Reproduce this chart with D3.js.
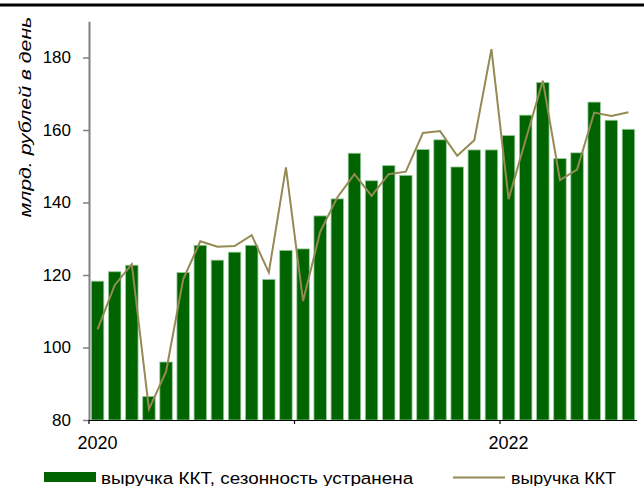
<!DOCTYPE html>
<html>
<head>
<meta charset="utf-8">
<script src="https://cdn.jsdelivr.net/npm/d3@7"></script>
<style>
  html, body { margin: 0; padding: 0; background: #fff; }
  svg { display: block; font-family: "Liberation Sans", Arial, sans-serif; }
</style>
</head>
<body>
<svg id="chart" width="644" height="486"></svg>
<script>
// ---- data ----
const months = [
  "2020-01","2020-02","2020-03","2020-04","2020-05","2020-06","2020-07","2020-08","2020-09","2020-10","2020-11","2020-12",
  "2021-01","2021-02","2021-03","2021-04","2021-05","2021-06","2021-07","2021-08","2021-09","2021-10","2021-11","2021-12",
  "2022-01","2022-02","2022-03","2022-04","2022-05","2022-06","2022-07","2022-08"
];
const seasAdj = [
  118.3, 120.9, 122.7, 86.5, 96.0, 120.7, 128.2, 124.1, 126.3, 128.2, 118.8, 126.8,
  127.2, 136.3, 141.0, 153.6, 146.0, 150.2, 147.5, 154.6, 157.3, 149.8, 154.5, 154.5,
  158.5, 164.1, 173.1, 152.1, 153.7, 167.7, 162.7, 160.2
];
const raw = [
  105.0, 117.2, 123.0, 83.0, 93.3, 118.8, 129.3, 127.8, 128.0, 131.0, 120.7, 149.7,
  112.8, 131.9, 141.4, 147.8, 141.8, 147.8, 148.5, 159.2, 159.7, 152.9, 157.2, 182.3,
  140.9, 157.3, 173.6, 146.2, 149.1, 164.8, 163.9, 164.9
];
const yTicks = [80, 100, 120, 140, 160, 180];
const yearTicks = ["2020-01", "2021-01", "2022-01"];
const yearLabels = [{ m: "2020-01", t: "2020" }, { m: "2022-01", t: "2022" }];
const seriesNames = ["выручка ККТ, сезонность устранена", "выручка ККТ"];
const yTitle = "млрд. рублей в день";

// ---- layout ----
const svg = d3.select("#chart");
const plotL = 89, plotR = 637, plotT = 21.25, plotB = 420;
const barColor = "#006400";
const lineColor = "#948a54";

const x = d3.scaleBand().domain(months).range([plotL, plotR])
  .paddingInner(0.27).paddingOuter(0.135);
const y = d3.scaleLinear().domain([80, 190]).range([plotB, plotT]);

// top border
svg.append("line").attr("x1", 0).attr("x2", 644).attr("y1", 5).attr("y2", 5)
  .attr("stroke", "#000").attr("stroke-width", 3);

// bars
svg.append("g").selectAll("rect").data(months).join("rect")
  .attr("x", d => x(d))
  .attr("width", x.bandwidth())
  .attr("y", (d, i) => y(seasAdj[i]))
  .attr("height", (d, i) => y(80) - y(seasAdj[i]))
  .attr("fill", barColor)
  .attr("stroke", "#9ccc9c")
  .attr("stroke-width", 0.8);

// line
const lineGen = d3.line()
  .x((d, i) => x(months[i]) + x.bandwidth() / 2)
  .y(d => y(d));
svg.append("path").datum(raw)
  .attr("d", lineGen)
  .attr("fill", "none")
  .attr("stroke", lineColor)
  .attr("stroke-width", 2)
  .attr("stroke-linejoin", "miter");

// y axis
const yAxis = svg.append("g").attr("transform", `translate(${plotL},0)`)
  .call(d3.axisLeft(y).tickValues(yTicks).tickSize(6).tickPadding(12).tickSizeOuter(0));
yAxis.select(".domain").attr("stroke", "#808080").attr("stroke-width", 2);
yAxis.selectAll(".tick line").attr("stroke", "#808080").attr("stroke-width", 1.5);
yAxis.selectAll(".tick text").attr("font-size", 17).attr("fill", "#000")
  .attr("font-family", "Liberation Sans, Arial, sans-serif");

// x axis
const step = x.step();
const off = (step - x.bandwidth()) / 2;
const xg = svg.append("g");
xg.append("line").attr("x1", plotL).attr("x2", plotR).attr("y1", plotB + 0.5).attr("y2", plotB + 0.5)
  .attr("stroke", "#000").attr("stroke-width", 1);
xg.selectAll("line.tk").data(yearTicks).join("line").attr("class", "tk")
  .attr("x1", d => x(d) - off).attr("x2", d => x(d) - off)
  .attr("y1", plotB).attr("y2", plotB + 4)
  .attr("stroke", "#000").attr("stroke-width", 1.2);
xg.selectAll("text").data(yearLabels).join("text")
  .attr("x", d => x(d.m) + x.bandwidth() / 2)
  .attr("y", 449)
  .attr("text-anchor", "middle")
  .attr("font-size", 18)
  .attr("fill", "#000")
  .text(d => d.t);

// y title
svg.append("text")
  .attr("transform", "translate(31,117) rotate(-90) scale(1.25,1)")
  .attr("text-anchor", "middle")
  .attr("font-size", 17)
  .attr("font-style", "italic")
  .attr("fill", "#000")
  .text(yTitle);

// legend
const lg = svg.append("g");
lg.append("rect").attr("x", 44).attr("y", 472).attr("width", 52).attr("height", 10).attr("fill", barColor);
lg.append("text").attr("transform", "translate(101,483.5) scale(1.11,1)")
  .attr("font-size", 17).attr("fill", "#000").text(seriesNames[0]);
lg.append("line").attr("x1", 453).attr("x2", 505).attr("y1", 477.5).attr("y2", 477.5)
  .attr("stroke", lineColor).attr("stroke-width", 2);
lg.append("text").attr("transform", "translate(511,483.5) scale(1.05,1)")
  .attr("font-size", 17).attr("fill", "#000").text(seriesNames[1]);
</script>
</body>
</html>
